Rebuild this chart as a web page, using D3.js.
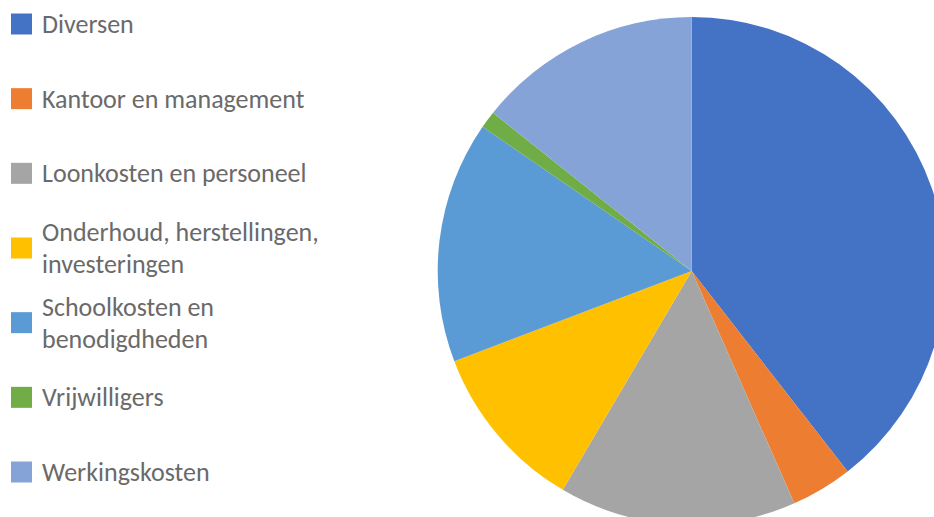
<!DOCTYPE html>
<html>
<head>
<meta charset="utf-8">
<script src="https://cdn.jsdelivr.net/npm/d3@7"></script>
<style>
  html, body { margin: 0; padding: 0; background: #fff; }
  svg { display: block; }
  .legend text { font-family: Calibri, Carlito, Lato, sans-serif; fill: #6a6a6a; }
</style>
</head>
<body>
<svg id="chart" width="934" height="517"></svg>
<script>
// categories, shares (percent) and slice colours
const categories = [
    "Diversen",
    "Kantoor en management",
    "Loonkosten en personeel",
    "Onderhoud, herstellingen, investeringen",
    "Schoolkosten en benodigdheden",
    "Vrijwilligers",
    "Werkingskosten"
];
const shares = [39.5, 3.9, 15.1, 10.75, 15.4, 1.1, 14.3];
const colors = ["#4472C4", "#ED7D31", "#A5A5A5", "#FFC000", "#5B9BD5", "#70AD47", "#86A3D7"];
// how the legend wraps the longer names
const legendLines = [
    ["Diversen"],
    ["Kantoor en management"],
    ["Loonkosten en personeel"],
    ["Onderhoud, herstellingen,", "investeringen"],
    ["Schoolkosten en", "benodigdheden"],
    ["Vrijwilligers"],
    ["Werkingskosten"]
];

const svg = d3.select("#chart"),
    cx = 691.7, cy = 271, radius = 254;

const data = categories.map((c, i) => ({ name: c, value: shares[i], lines: legendLines[i] }));

const color = d3.scaleOrdinal()
    .domain(categories)
    .range(colors);

const pie = d3.pie()
    .sort(null)
    .value(d => d.value);

const arc = d3.arc()
    .innerRadius(0)
    .outerRadius(radius);

svg.append("g")
    .attr("transform", `translate(${cx},${cy})`)
    .selectAll("path")
    .data(pie(data))
    .enter()
    .append("path")
    .attr("d", arc)
    .attr("fill", d => color(d.data.name));

// Legend on the left
const legendY = d3.scalePoint()
    .domain(categories)
    .range([24, 472]);

const lineH = 32, fontSize = 26;

const item = svg.append("g")
    .attr("class", "legend")
    .selectAll("g")
    .data(data)
    .enter()
    .append("g")
    .attr("transform", d => `translate(0,${legendY(d.name)})`);

item.append("rect")
    .attr("x", 11)
    .attr("y", -10.5)
    .attr("width", 21)
    .attr("height", 21)
    .attr("fill", d => color(d.name));

item.append("text")
    .attr("x", 42)
    .attr("font-size", fontSize)
    .selectAll("tspan")
    .data(d => d.lines.map((t, i) => ({ t, i, n: d.lines.length })))
    .enter()
    .append("tspan")
    .attr("x", 42)
    .attr("y", d => (d.i - (d.n - 1) / 2) * lineH)
    .attr("dy", "0.35em")
    .text(d => d.t);
</script>
</body>
</html>
